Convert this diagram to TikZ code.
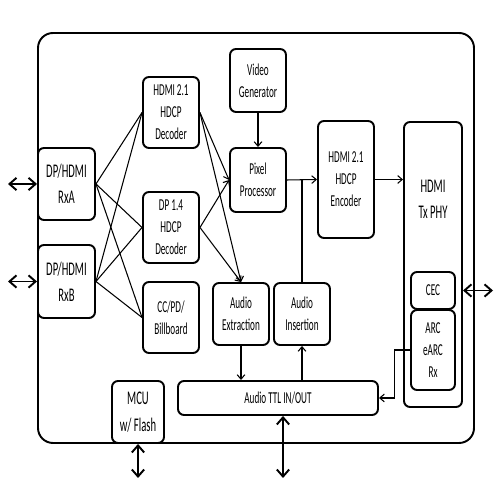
\documentclass[tikz,border=0pt]{standalone}
\usepackage{fontspec}
\setmainfont[FakeStretch=0.55]{Carlito}
\usepackage{tikz}
\usetikzlibrary{calc, arrows.meta}

\begin{document}
\begin{tikzpicture}[
    blk/.style={draw, line width=1.1pt, rounded corners=0.12cm, align=center, inner sep=0pt, font=\fontsize{9.5}{12.5}\selectfont},
    bigblk/.style={blk, font=\fontsize{11}{15}\selectfont},
    wire/.style={line width=0.6pt, >={Straight Barb[length=2.6pt, width=4.4pt]}},
    ext/.style={line width=1.1pt, >={Straight Barb[length=4pt, width=7pt]}}]
    \useasboundingbox (0,0) rectangle (10,10);

    % Draw the outer board
    \draw[line width=1.1pt, rounded corners=0.3cm] (0.76,1.14) rectangle (9.48,9.34);

    % Receivers and decoders
    \node[bigblk, minimum width=1.14cm, minimum height=1.44cm] (rxa) at (1.33,6.32) {DP/HDMI\\RxA};
    \node[bigblk, minimum width=1.14cm, minimum height=1.46cm] (rxb) at (1.33,4.37) {DP/HDMI\\RxB};
    \node[blk, minimum width=1.12cm, minimum height=1.42cm] (hdec) at (3.42,7.75) {HDMI 2.1\\HDCP\\Decoder};
    \node[blk, minimum width=1.12cm, minimum height=1.42cm] (dpdec) at (3.42,5.45) {DP 1.4\\HDCP\\Decoder};
    \node[blk, minimum width=1.12cm, minimum height=1.42cm] (ccpd) at (3.42,3.65) {CC/PD/\\Billboard};

    % Video path
    \node[blk, minimum width=1.12cm, minimum height=1.26cm] (vgen) at (5.16,8.39) {Video\\Generator};
    \node[blk, minimum width=1.12cm, minimum height=1.28cm] (pix) at (5.16,6.40) {Pixel\\Processor};
    \node[blk, minimum width=1.12cm, minimum height=2.34cm] (enc) at (6.92,6.41) {HDMI 2.1\\HDCP\\Encoder};
    \node[blk, minimum width=1.16cm, minimum height=5.70cm] (phy) at (8.66,4.71) {};
    \node[align=center, font=\fontsize{11}{15}\selectfont] (phytxt) at (8.66,6.02) {HDMI\\Tx PHY};
    \node[blk, minimum width=0.88cm, minimum height=0.74cm] (cec) at (8.66,4.19) {CEC};
    \node[blk, minimum width=0.88cm, minimum height=1.60cm] (arc) at (8.66,3.00) {ARC\\eARC\\Rx};

    % Audio path
    \node[blk, minimum width=1.12cm, minimum height=1.24cm] (aext) at (4.82,3.72) {Audio\\Extraction};
    \node[blk, minimum width=1.12cm, minimum height=1.24cm] (ains) at (6.04,3.72) {Audio\\Insertion};
    \node[blk, minimum width=4.00cm, minimum height=0.68cm] (ttl) at (5.56,2.04) {Audio TTL IN/OUT};
    \node[bigblk, minimum width=1.04cm, minimum height=1.24cm] (mcu) at (2.76,1.76) {MCU\\w/ Flash};

    % Outside ports
    \coordinate (ina) at (0.16,6.32);
    \coordinate (inb) at (0.16,4.37);
    \coordinate (cecout) at (9.86,4.19);
    \coordinate (mcuport) at (2.76,0.44);
    \coordinate (ttlport) at (5.66,0.44);

    \draw[ext, <->] (ina) -- (rxa.west);
    \draw[ext, <->] (inb) -- (rxb.west);
    \draw[ext, <->] (cec -| phy.east) -- (cecout);
    \draw[ext, <->] (mcu.south) -- (mcuport);
    \draw[ext, <->] (ttlport |- ttl.south) -- (ttlport);

    % Receivers to decoders
    \draw[wire] (rxa.east) -- (hdec.west);
    \draw[wire] (rxa.east) -- (dpdec.west);
    \draw[wire] (rxa.east) -- (ccpd.west);
    \draw[wire] (rxb.east) -- (hdec.west);
    \draw[wire] (rxb.east) -- (dpdec.west);
    \draw[wire] (rxb.east) -- (ccpd.west);

    % Decoders to processing
    \draw[wire, ->] (hdec.east) -- (pix.west);
    \draw[wire, ->] (hdec.east) -- (aext.north);
    \draw[wire, ->] (dpdec.east) -- (pix.west);
    \draw[wire, ->] (dpdec.east) -- (aext.north);

    % Video and audio links
    \draw[wire, ->] (vgen) -- (pix);
    \draw[wire, ->] (pix.east) -- (enc.west);
    \draw[wire] (ains.north) -- (ains.north |- pix.east);
    \draw[wire, ->] (enc.east) -- (enc.east -| phy.west);
    \draw[wire, ->] (aext.south) -- (aext.south |- ttl.north);
    \draw[wire, ->] (ains.south |- ttl.north) -- (ains.south);
    \draw[wire, ->] (arc.west) -- ++(-0.32,0) |- (ttl.east);
\end{tikzpicture}
\end{document}
